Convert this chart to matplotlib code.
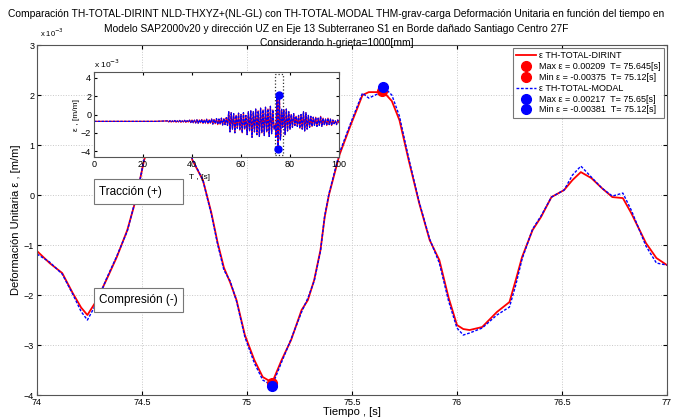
import numpy as np
import matplotlib
matplotlib.use('Agg')
import matplotlib.pyplot as plt
from matplotlib.lines import Line2D
from matplotlib.patches import Rectangle

plt.rcParams['font.family'] = ['Liberation Sans', 'DejaVu Sans']

# Strain values in units of 1e-3 [m/m], time in seconds
red_t = [74.00, 74.06, 74.12, 74.17, 74.21, 74.24, 74.285, 74.33, 74.38, 74.43,
         74.466, 74.49, 74.51, 74.56, 74.60, 74.64, 74.68, 74.71, 74.74, 74.79,
         74.83, 74.86, 74.89, 74.92, 74.95, 74.99, 75.035, 75.075, 75.12, 75.165,
         75.21, 75.26, 75.29, 75.32, 75.35, 75.37, 75.39, 75.44, 75.49, 75.55,
         75.58, 75.62, 75.645, 75.69, 75.726, 75.77, 75.82, 75.87, 75.916, 75.96,
         76.00, 76.03, 76.06, 76.12, 76.19, 76.25, 76.28, 76.31, 76.36, 76.40,
         76.45, 76.51, 76.55, 76.59, 76.64, 76.69, 76.74, 76.79, 76.83, 76.90,
         76.95, 77.00]
red_v = [-1.12, -1.36, -1.56, -1.96, -2.25, -2.40, -2.10, -1.70, -1.24, -0.70,
         -0.16, 0.30, 0.70, 1.35, 1.75, 1.85, 1.65, 1.25, 0.70, 0.30,
         -0.35, -0.95, -1.45, -1.75, -2.10, -2.80, -3.30, -3.64, -3.75, -3.30,
         -2.90, -2.30, -2.10, -1.70, -1.10, -0.44, 0.00, 0.80, 1.36, 2.00,
         2.06, 2.06, 2.09, 1.88, 1.50, 0.70, -0.16, -0.90, -1.30, -2.05,
         -2.60, -2.68, -2.70, -2.64, -2.34, -2.14, -1.70, -1.24, -0.70, -0.44,
         -0.04, 0.10, 0.30, 0.46, 0.34, 0.14, -0.04, -0.06, -0.36, -0.96,
         -1.26, -1.40]

blue_t = [74.00, 74.06, 74.12, 74.17, 74.21, 74.24, 74.285, 74.33, 74.38, 74.43,
          74.466, 74.49, 74.51, 74.56, 74.60, 74.64, 74.68, 74.71, 74.74, 74.79,
          74.83, 74.86, 74.89, 74.92, 74.95, 74.99, 75.035, 75.075, 75.12, 75.165,
          75.21, 75.26, 75.29, 75.32, 75.35, 75.37, 75.39, 75.44, 75.49, 75.55,
          75.58, 75.62, 75.65, 75.69, 75.726, 75.77, 75.82, 75.87, 75.916, 75.96,
          76.00, 76.03, 76.06, 76.12, 76.19, 76.25, 76.28, 76.31, 76.36, 76.40,
          76.45, 76.51, 76.55, 76.59, 76.64, 76.69, 76.74, 76.79, 76.83, 76.90,
          76.95, 77.00]
blue_v = [-1.18, -1.34, -1.58, -1.98, -2.33, -2.50, -2.15, -1.68, -1.22, -0.72,
          -0.14, 0.30, 0.72, 1.38, 1.78, 1.88, 1.66, 1.24, 0.72, 0.30,
          -0.38, -0.98, -1.50, -1.72, -2.12, -2.84, -3.36, -3.70, -3.81, -3.34,
          -2.88, -2.34, -2.06, -1.72, -1.12, -0.42, 0.02, 0.84, 1.40, 2.04,
          1.94, 2.02, 2.17, 2.00, 1.58, 0.74, -0.14, -0.88, -1.36, -2.12,
          -2.66, -2.80, -2.76, -2.66, -2.40, -2.24, -1.80, -1.28, -0.68, -0.42,
          -0.04, 0.10, 0.40, 0.58, 0.36, 0.14, -0.02, 0.04, -0.30, -1.02,
          -1.36, -1.40]

# full record (0-100 s) outside the 74-77 s window, same units
full_t_start = [0, 10, 20, 25] + list(np.arange(30, 74, 0.5))
full_v_start = [-0.75, -0.75, -0.75, -0.75,
                -0.70, -0.80, -0.68, -0.82, -0.70, -0.80, -0.66, -0.84, -0.70, -0.80,
                -0.65, -0.85, -0.70, -0.80, -0.64, -0.86, -0.68, -0.82, -0.62, -0.88,
                -0.60, -0.90, -0.62, -0.92, -0.58, -0.95, -0.60, -0.90, -0.55, -0.98,
                -0.60, -0.92, -0.52, -1.00, -0.58, -0.95, -0.50, -1.05, -0.55, -1.00,
                -0.45, -1.10, -0.50, -1.05, -0.40, -1.15, -0.45, -1.10, -0.35, -1.20,
                0.30, -1.90, 0.20, -1.60, 0.10, -2.00, -0.10, -1.50, 0.15, -1.70,
                0.00, -2.00, 0.20, -1.60, -0.10, -2.20, 0.30, -1.80, 0.40, -2.50,
                0.30, -1.90, 0.60, -2.20, 0.40, -2.40, 0.70, -2.00, 0.50, -2.30,
                0.80, -1.90, 0.60, -2.40, 0.90, -2.10, 0.50, -1.60]
full_t_end = list(np.arange(77.5, 100.01, 0.5))
full_v_end = [0.50, -2.20, 0.60, -1.80, 0.30,
              -1.60, 0.00, -1.40, 0.10, -1.20, -0.20, -1.30, -0.10, -1.50, 0.00,
              -1.60, 0.30, -1.80, 0.20, -1.60, -0.10, -1.40, -0.20, -1.30, -0.30,
              -1.20, -0.30, -1.30, -0.40, -1.20, -0.20, -1.30, -0.40, -1.10, -0.50,
              -1.20, -0.40, -1.10, -0.50, -1.20, -0.60, -1.00, -0.70, -1.10, -0.60, -0.90]

red_max_t, red_max_v = 75.645, 2.09
red_min_t, red_min_v = 75.12, -3.75
blue_max_t, blue_max_v = 75.65, 2.17
blue_min_t, blue_min_v = 75.12, -3.81

title_lines = [
    'Comparación TH-TOTAL-DIRINT NLD-THXYZ+(NL-GL) con TH-TOTAL-MODAL THM-grav-carga '
    'Deformación Unitaria en función del tiempo en',
    'Modelo SAP2000v20 y dirección UZ en Eje 13 Subterraneo S1 en Borde dañado Santiago Centro 27F',
    'Considerando h-grieta=1000[mm]',
]

RED = '#ff0000'
BLUE = '#0000ff'

fig = plt.figure(figsize=(6.73, 4.18), dpi=100)
ax = fig.add_axes([0.055, 0.055, 0.936, 0.837])

ax.plot(red_t, red_v, color=RED, lw=1.3)
ax.plot(blue_t, blue_v, color=BLUE, lw=1.0, ls=(0, (2, 1.2)))
ax.plot(red_max_t, red_max_v, 'o', color=RED, ms=7)
ax.plot(red_min_t, red_min_v, 'o', color=RED, ms=7)
ax.plot(blue_max_t, blue_max_v, 'o', color=BLUE, ms=7)
ax.plot(blue_min_t, blue_min_v, 'o', color=BLUE, ms=7)

ax.set_xlim(74, 77)
ax.set_ylim(-4, 3)
ax.set_xticks([74, 74.5, 75, 75.5, 76, 76.5, 77])
ax.set_xticklabels(['74', '74.5', '75', '75.5', '76', '76.5', '77'])
ax.set_yticks(range(-4, 4))
ax.tick_params(labelsize=6.5, direction='in', top=True, right=True, length=3, pad=2)
ax.grid(True, color='#c8c8c8', ls=':', lw=0.7)
for s in ax.spines.values():
    s.set_color('#555555')
    s.set_linewidth(0.8)
ax.text(0.004, 1.018, 'x 10$^{-3}$', transform=ax.transAxes, fontsize=5.5, va='bottom', ha='left')

ax.set_xlabel('Tiempo , [s]', fontsize=8, labelpad=0)
ax.set_ylabel('Deformación Unitaria ε , [m/m]', fontsize=8, labelpad=2)

# three-line title, centred on the figure
for y, line in zip([0.966, 0.931, 0.897], title_lines):
    fig.text(0.5, y, line, fontsize=7.4, ha='center', va='center')

# annotation boxes
for y0, label in [(0.546, 'Tracción (+)'), (0.236, 'Compresión (-)')]:
    ax.add_patch(Rectangle((0.091, y0), 0.14, 0.07, transform=ax.transAxes,
                           facecolor='white', edgecolor='#777777', lw=0.8, zorder=4))
    ax.text(0.099, y0 + 0.035, label, transform=ax.transAxes, fontsize=8.5,
            va='center', ha='left', zorder=5)

handles = [
    Line2D([], [], color=RED, lw=1.3),
    Line2D([], [], color=RED, marker='o', ls='none', ms=7),
    Line2D([], [], color=RED, marker='o', ls='none', ms=7),
    Line2D([], [], color=BLUE, lw=1.0, ls=(0, (2, 1.2))),
    Line2D([], [], color=BLUE, marker='o', ls='none', ms=7),
    Line2D([], [], color=BLUE, marker='o', ls='none', ms=7),
]
labels = [
    'ε TH-TOTAL-DIRINT',
    f'Max ε = {red_max_v * 1e-3:.5f}  T= {red_max_t:g}[s]',
    f'Min ε = {red_min_v * 1e-3:.5f}  T= {red_min_t:g}[s]',
    'ε TH-TOTAL-MODAL',
    f'Max ε = {blue_max_v * 1e-3:.5f}  T= {blue_max_t:g}[s]',
    f'Min ε = {blue_min_v * 1e-3:.5f}  T= {blue_min_t:g}[s]',
]
leg = ax.legend(handles, labels, loc='upper right', fontsize=6.5, frameon=True,
                fancybox=False, borderaxespad=0.3, handlelength=2.2,
                handletextpad=0.3, labelspacing=0.2, borderpad=0.4)
leg.get_frame().set_edgecolor('#555555')
leg.get_frame().set_linewidth(0.8)

# inset with the whole record
ins = fig.add_axes([0.1397, 0.6244, 0.364, 0.2033])
in_red_t = full_t_start + red_t + full_t_end
in_red_v = full_v_start + red_v + full_v_end
in_blue_t = full_t_start + blue_t + full_t_end
in_blue_v = full_v_start + blue_v + full_v_end
ins.plot(in_red_t, in_red_v, color=RED, lw=0.9)
ins.plot(in_blue_t, in_blue_v, color=BLUE, lw=0.9, ls=(0, (2, 1)))
ins.plot(blue_max_t, blue_max_v, 'o', color=BLUE, ms=5)
ins.plot(blue_min_t, blue_min_v, 'o', color=BLUE, ms=5)
ins.add_patch(Rectangle((74, -4.4), 3, 8.8, fill=False, ec='#333333', ls=':', lw=0.9))
ins.set_xlim(0, 100)
ins.set_ylim(-4.65, 4.65)
ins.set_xticks(range(0, 101, 20))
ins.set_yticks([-4, -2, 0, 2, 4])
ins.tick_params(labelsize=6.5, direction='in', top=True, right=True, length=2, pad=2)
for s in ins.spines.values():
    s.set_color('#555555')
    s.set_linewidth(0.8)
ins.set_xlabel('T , [s]', fontsize=6, labelpad=1)
ins.xaxis.set_label_coords(0.43, -0.2)
ins.set_ylabel('ε , [m/m]', fontsize=6, labelpad=1)
ins.text(0.0, 1.02, 'x 10$^{-3}$', transform=ins.transAxes, fontsize=6, va='bottom', ha='left')

fig.savefig('out.png', dpi=100)
